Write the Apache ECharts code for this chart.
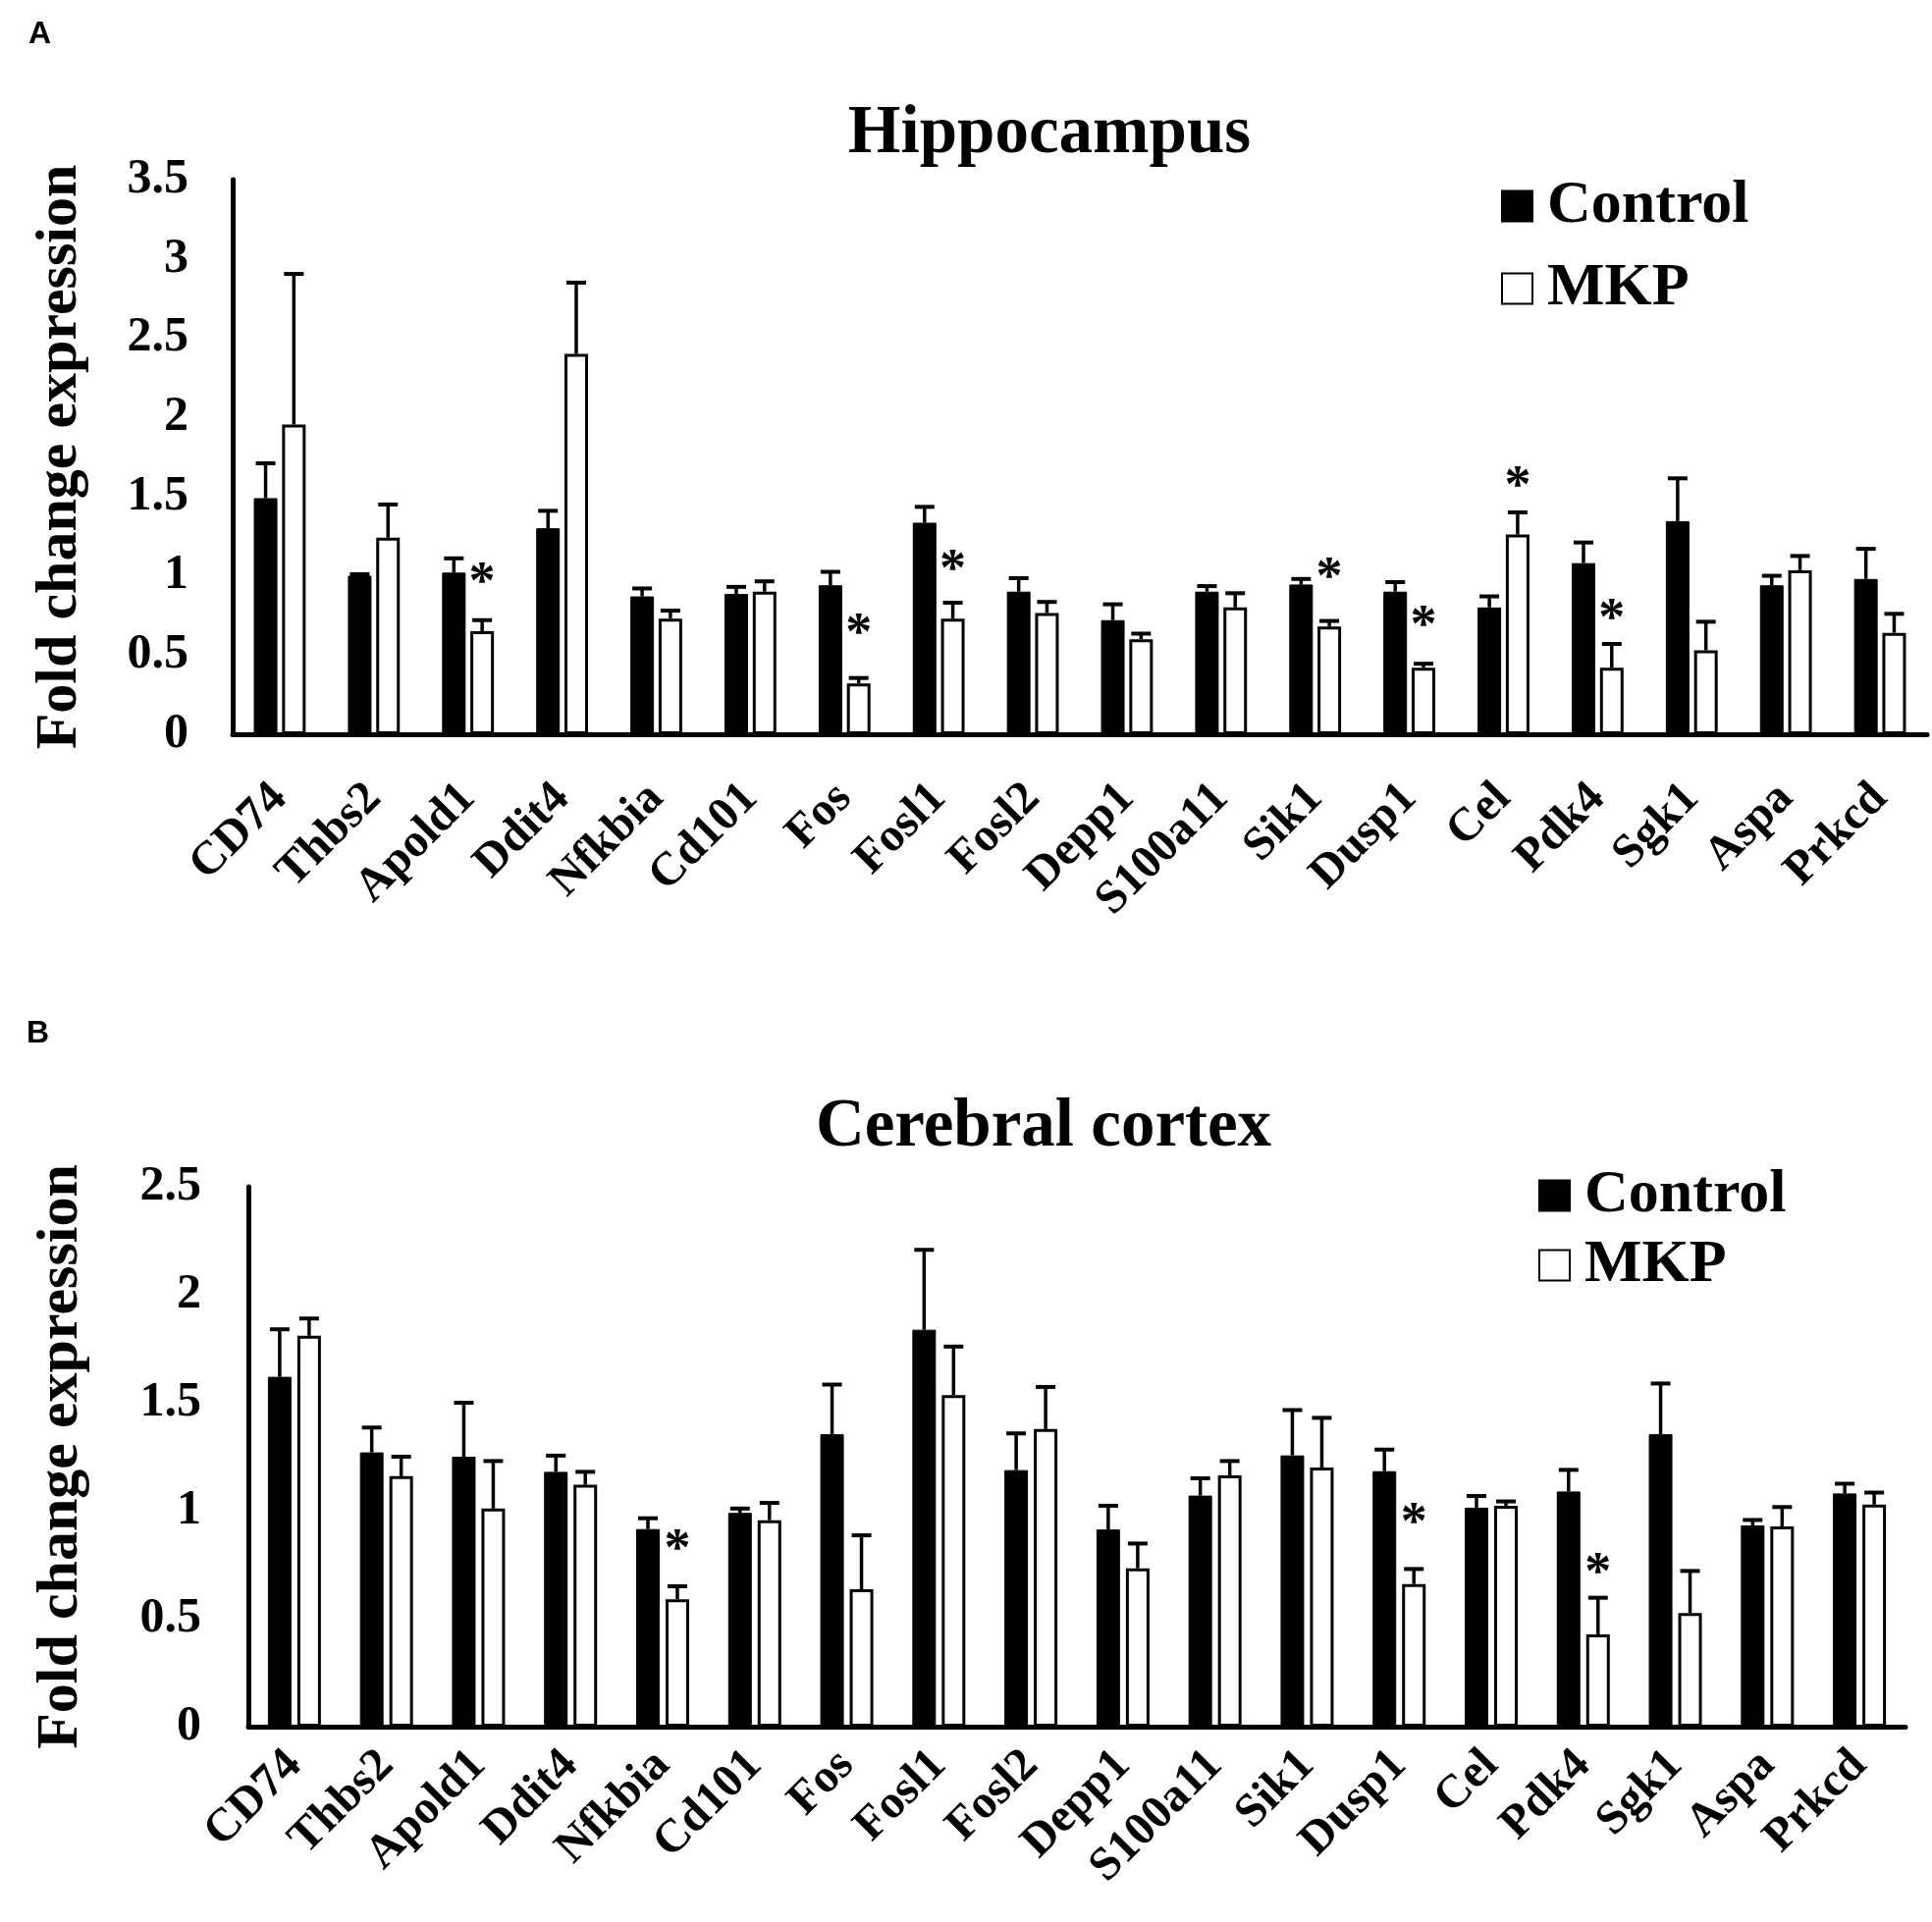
<!DOCTYPE html>
<html>
<head>
<meta charset="utf-8">
<script src="https://cdn.jsdelivr.net/npm/echarts/dist/echarts.min.js"></script>
<style>
  html, body { margin: 0; padding: 0; background: #fff; }
  #chart { width: 1968px; height: 1958px; }
</style>
</head>
<body>
<div id="chart"></div>
<script>
const categories = ['CD74', 'Thbs2', 'Apold1', 'Ddit4', 'Nfkbia', 'Cd101', 'Fos', 'Fosl1', 'Fosl2',
  'Depp1', 'S100a11', 'Sik1', 'Dusp1', 'Cel', 'Pdk4', 'Sgk1', 'Aspa', 'Prkcd']

// A - Hippocampus
const hippoControl = [1.49, 1.00, 1.02, 1.30, 0.87, 0.885, 0.94, 1.335, 0.90, 0.72, 0.90, 0.945, 0.90, 0.80, 1.08, 1.345, 0.94, 0.98]
const hippoControlErr = [0.22, 0.01, 0.09, 0.11, 0.05, 0.045, 0.085, 0.10, 0.085, 0.10, 0.035, 0.035, 0.06, 0.07, 0.13, 0.27, 0.06, 0.19]
const hippoMkp = [1.955, 1.24, 0.65, 2.40, 0.73, 0.90, 0.32, 0.73, 0.765, 0.60, 0.80, 0.68, 0.42, 1.26, 0.42, 0.53, 1.035, 0.64]
const hippoMkpErr = [0.95, 0.21, 0.07, 0.45, 0.05, 0.065, 0.035, 0.10, 0.07, 0.035, 0.09, 0.035, 0.025, 0.14, 0.15, 0.18, 0.09, 0.12]
const hippoStars = [[2, 1.02], [6, 0.70], [7, 1.10], [11, 1.05], [12, 0.75], [13, 1.63], [14, 0.79]]

// B - Cerebral cortex
const cortexControl = [1.62, 1.27, 1.25, 1.18, 0.915, 0.99, 1.354, 1.838, 1.188, 0.913, 1.07, 1.256, 1.183, 1.014, 1.089, 1.354, 0.932, 1.08]
const cortexControlErr = [0.22, 0.115, 0.25, 0.075, 0.05, 0.02, 0.23, 0.37, 0.17, 0.11, 0.08, 0.21, 0.10, 0.054, 0.10, 0.235, 0.025, 0.045]
const cortexMkp = [1.81, 1.16, 1.01, 1.12, 0.59, 0.956, 0.636, 1.535, 1.378, 0.733, 1.164, 1.20, 0.66, 1.023, 0.427, 0.526, 0.927, 1.028]
const cortexMkpErr = [0.08, 0.09, 0.22, 0.06, 0.06, 0.08, 0.25, 0.225, 0.195, 0.115, 0.066, 0.23, 0.07, 0.02, 0.17, 0.195, 0.09, 0.056]
const cortexStars = [[4, 0.87], [12, 0.99], [14, 0.76]]

const yTicksA = { min: 0, max: 3.5, interval: 0.5 }
const yTicksB = { min: 0, max: 2.5, interval: 0.5 }

const SERIF = '"Liberation Serif", "Times New Roman", serif'
const BAR_W = 24

const errorBars = (name, idx, values, errs, offset) => ({
  type: 'custom',
  name,
  xAxisIndex: idx,
  yAxisIndex: idx,
  z: 5,
  silent: true,
  data: values.map((v, i) => [i, v, errs[i]]),
  renderItem: (params, api) => {
    const base = api.coord([api.value(0), api.value(1)])
    const top = api.coord([api.value(0), api.value(1) + api.value(2)])
    const x = base[0] + offset
    return {
      type: 'group',
      children: [
        { type: 'line', shape: { x1: x, y1: base[1], x2: x, y2: top[1] }, style: { stroke: '#000', lineWidth: 3.5 } },
        { type: 'line', shape: { x1: x - 10, y1: top[1], x2: x + 10, y2: top[1] }, style: { stroke: '#000', lineWidth: 4 } }
      ]
    }
  }
})

const stars = (idx, points, offset) => ({
  type: 'custom',
  name: 'sig' + idx,
  xAxisIndex: idx,
  yAxisIndex: idx,
  z: 6,
  silent: true,
  data: points,
  renderItem: (params, api) => {
    const p = api.coord([api.value(0), api.value(1)])
    return {
      type: 'text',
      x: p[0] + offset,
      y: p[1] + 12,
      style: { text: '*', font: 'bold 54px ' + SERIF, fill: '#000', align: 'center', verticalAlign: 'middle' }
    }
  }
})

const bars = (name, idx, values, gap) => ({
  type: 'bar',
  name,
  xAxisIndex: idx,
  yAxisIndex: idx,
  barWidth: BAR_W,
  barGap: gap,
  data: values,
  itemStyle: name === 'Control'
    ? { color: '#000', borderColor: '#000', borderWidth: 1 }
    : { color: '#fff', borderColor: '#000', borderWidth: 3 }
})

const xAxis = (idx, margin) => ({
  type: 'category',
  gridIndex: idx,
  data: categories,
  axisLine: { lineStyle: { color: '#000', width: 5 } },
  axisTick: { show: false },
  axisLabel: {
    interval: 0, rotate: 45, margin, color: '#000',
    fontFamily: SERIF, fontWeight: 'bold', fontSize: 48
  }
})

const yAxis = (idx, ticks, nameGap, margin) => ({
  type: 'value',
  gridIndex: idx,
  min: ticks.min,
  max: ticks.max,
  interval: ticks.interval,
  name: 'Fold change expression',
  nameLocation: 'middle',
  nameGap,
  nameTextStyle: { color: '#000', fontFamily: SERIF, fontWeight: 'bold', fontSize: 60 },
  axisLine: { show: true, lineStyle: { color: '#000', width: 5 } },
  axisTick: { show: false },
  splitLine: { show: false },
  axisLabel: { color: '#000', fontFamily: SERIF, fontWeight: 'bold', fontSize: 50, margin }
})

const legend = (left, top, gap) => ({
  data: ['Control', 'MKP'],
  orient: 'vertical',
  left, top,
  itemWidth: 31,
  itemHeight: 31,
  itemGap: gap,
  icon: 'rect',
  selectedMode: false,
  textStyle: { color: '#000', fontFamily: SERIF, fontWeight: 'bold', fontSize: 62, lineHeight: 62, padding: [0, 0, 0, 10] }
})

const chart = echarts.init(document.getElementById('chart'))
chart.setOption({
  animation: false,
  backgroundColor: '#fff',
  title: [
    { text: 'A', left: 24, top: 14, textStyle: { fontFamily: '"Liberation Sans", Arial, sans-serif', fontWeight: 'bold', fontSize: 32, color: '#000' } },
    { text: 'Hippocampus', left: 1064, top: 98, textAlign: 'center', textStyle: { fontFamily: SERIF, fontWeight: 'bold', fontSize: 69, color: '#000' } },
    { text: 'B', left: 22, top: 1032, textStyle: { fontFamily: '"Liberation Sans", Arial, sans-serif', fontWeight: 'bold', fontSize: 32, color: '#000' } },
    { text: 'Cerebral cortex', left: 1058, top: 1110, textAlign: 'center', textStyle: { fontFamily: SERIF, fontWeight: 'bold', fontSize: 69, color: '#000' } }
  ],
  legend: [legend(1524, 174, 22), legend(1562, 1182, 9)],
  grid: [
    { left: 237, top: 183, width: 1726, height: 565 },
    { left: 253, top: 1209, width: 1688, height: 550 }
  ],
  xAxis: [xAxis(0, 58), xAxis(1, 32)],
  yAxis: [yAxis(0, yTicksA, 146, 45), yAxis(1, yTicksB, 161, 48)],
  series: [
    bars('Control', 0, hippoControl, '20%'),
    bars('MKP', 0, hippoMkp, '20%'),
    errorBars('Control SEM A', 0, hippoControl, hippoControlErr, -14.4),
    errorBars('MKP SEM A', 0, hippoMkp, hippoMkpErr, 14.4),
    stars(0, hippoStars, 14.4),
    bars('Control', 1, cortexControl, '25%'),
    bars('MKP', 1, cortexMkp, '25%'),
    errorBars('Control SEM B', 1, cortexControl, cortexControlErr, -15),
    errorBars('MKP SEM B', 1, cortexMkp, cortexMkpErr, 15),
    stars(1, cortexStars, 15)
  ]
})
</script>
</body>
</html>
